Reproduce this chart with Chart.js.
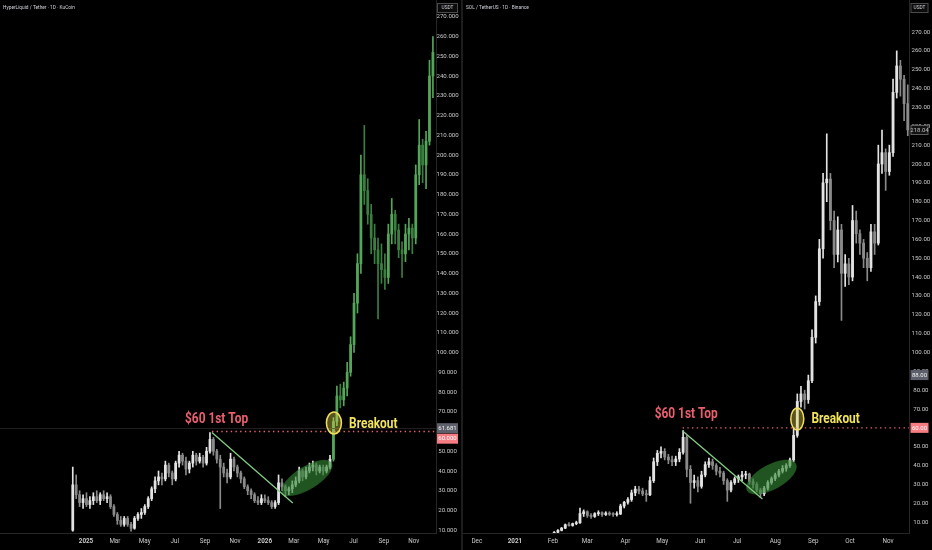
<!DOCTYPE html>
<html>
<head>
<meta charset="utf-8">
<script src="https://cdn.jsdelivr.net/npm/chart.js@4.4.1/dist/chart.umd.min.js"></script>
<style>
  html, body { margin: 0; padding: 0; background: #000; overflow: hidden; }
  #wrap { position: relative; width: 932px; height: 550px; }
  .pane { position: absolute; top: 0; height: 550px; }
  #leftPane { left: 0; width: 461px; }
  #rightPane { left: 463px; width: 469px; }
  #divider { position: absolute; left: 461px; top: 0; width: 2px; height: 550px; background: #1d1d1d; }
</style>
</head>
<body>
<div id="wrap">
  <div class="pane" id="leftPane"><canvas id="hypeChart" width="461" height="550"></canvas></div>
  <div id="divider"></div>
  <div class="pane" id="rightPane"><canvas id="solChart" width="469" height="550"></canvas></div>
</div>
<script>
// ---- Left: HyperLiquid / Tether, weekly candles (x = days since 1 Jan 2025) ----
const hypeStartDay = -27;
const hypeStepDays = 7;
const hypeOpen = [
  10, 33, 28, 24, 26, 23, 25, 27, 25, 28,
  26, 27, 22, 18, 15, 13, 16, 13, 11, 16,
  18, 19, 22, 26, 31, 35, 37, 36, 43, 39,
  36, 44, 48, 45, 41, 44, 48, 45, 47, 44,
  50, 56, 50, 46, 42, 39, 37, 46, 42, 39,
  36, 32, 30, 28, 25, 24, 26, 25, 24, 22,
  24, 34, 32, 30, 31, 33, 35, 40, 37, 40,
  42, 43, 40, 42, 40, 42, 46, 65, 78, 76,
  82, 90, 104, 125, 145, 190, 182, 170, 158, 152,
  145, 142, 138, 160, 170, 162, 152, 150, 160, 163,
  158, 190, 205, 195, 207, 240
];
const hypeHigh = [
  42, 38, 30, 28, 29, 27, 29, 30, 29, 30,
  29, 28, 23, 19, 17, 17, 17, 14, 17, 19,
  21, 23, 27, 32, 37, 40, 39, 45, 44, 40,
  45, 50, 49, 47, 45, 50, 49, 49, 48, 52,
  59.5, 57, 51, 48, 44, 41, 49, 47, 43, 40,
  37, 33, 31, 29, 27, 28, 28, 27, 25, 25,
  38, 36, 33, 32, 35, 37, 42, 41, 42, 44,
  45, 44, 43, 43, 43, 48, 67, 83, 84, 85,
  95, 108, 130, 150, 200, 215, 188, 175, 165, 158,
  155, 150, 165, 178, 172, 165, 156, 165, 168, 165,
  195, 218, 208, 212, 248, 260
];
const hypeLow = [
  9.5, 26, 22, 21, 22, 21, 23, 24, 23, 25,
  24, 21, 17, 13, 12, 12, 12, 9.5, 10.5, 15,
  16, 18, 21, 25, 29, 33, 33, 35, 37, 33,
  35, 42, 43, 38, 39, 42, 43, 44, 42, 43,
  49, 48, 44, 21, 37, 34, 36, 40, 37, 34,
  31, 28, 26, 24, 23, 23, 24, 23, 21, 21,
  23, 30, 27, 28, 29, 32, 34, 35, 36, 39,
  40, 38, 39, 38, 39, 41, 45, 63, 72, 73,
  78, 88, 100, 120, 140, 175, 165, 150, 145, 117,
  135, 132, 135, 155, 155, 148, 138, 146, 152, 150,
  155, 185, 186, 183, 205, 229
];
const hypeClose = [
  33, 28, 24, 26, 23, 25, 27, 25, 28, 26,
  27, 22, 18, 15, 13, 16, 13, 11, 16, 18,
  19, 22, 26, 31, 35, 37, 36, 43, 39, 36,
  44, 48, 45, 41, 44, 48, 45, 47, 44, 50,
  56, 50, 46, 42, 39, 37, 46, 42, 39, 36,
  32, 30, 28, 25, 24, 26, 25, 24, 22, 24,
  34, 32, 30, 31, 33, 35, 40, 37, 40, 42,
  43, 40, 42, 40, 42, 46, 65, 78, 76, 82,
  90, 104, 125, 145, 190, 182, 170, 158, 152, 145,
  142, 138, 160, 170, 162, 152, 150, 160, 163, 158,
  190, 205, 195, 207, 240, 252
];
const hypeMonthDays = [0, 59, 120, 181, 243, 304, 365, 424, 485, 546, 608, 669];
const hypeMonthLabels = ["2025", "Mar", "May", "Jul", "Sep", "Nov", "2026", "Mar", "May", "Jul", "Sep", "Nov"];
const hypePriceTicks = [10, 20, 30, 40, 50, 60, 70, 80, 90, 100, 110, 120, 130, 140, 150, 160, 170, 180, 190, 200, 210, 220, 230, 240, 250, 260, 270];
// candles from this day on are drawn green
const hypeGreenFromDay = 500;
// drawings on the chart, in (day, price)
const hypeNotes = {
  topDay: 257, topPrice: 59.5, levelPrice: 60,
  trendEnd: [422, 23.8],
  ellipse: [451, 36.5],
  breakout: [506, 64.3],
  topLabel: [202, 64.3],
  breakLabel: [537, 61.8],
  lastPrice: 61.681
};
const hypeAxisBoxes = [
  { value: 61.681, text: "61.681", kind: "grey" },
  { value: 60, text: "60.000", kind: "red" }
];

// ---- Right: SOL / TetherUS, 3-day candles (x = days since 1 Jan 2021) ----
const solStartDay = 29;
const solStepDays = 3;
const solOpen = [
  3.0, 3.8, 4.6, 5.6, 6.8, 8.6, 8.2, 9.2, 9.6, 14.5,
  15.5, 13.5, 13, 14.5, 15, 14, 14.8, 14.2, 14, 14.3,
  18.5, 20.5, 22, 25.5, 27.5, 26.5, 25, 24.5, 32, 42,
  46.5, 47.5, 44.5, 43, 42, 43.5, 47, 55, 38, 31,
  32, 29, 35, 40.5, 42, 40, 37, 36, 32, 27,
  31, 33, 34, 35, 35.5, 31.5, 30, 27, 25, 28,
  31, 33, 35, 37, 38.5, 40, 43, 56, 74, 78,
  75, 85, 108, 127, 155, 190, 192, 170, 152, 165,
  142, 147, 140, 170, 163, 158, 150, 145, 164, 158,
  200, 206, 196, 206, 238, 252, 245, 232
];
const solHigh = [
  4.0, 5.0, 6.0, 7.2, 9.0, 9.8, 9.5, 10.5, 17.5, 16.5,
  16, 14.5, 15, 16, 15.5, 15.5, 15.5, 15, 15.5, 19.5,
  21, 23, 27, 29, 29, 28, 27, 34, 44, 48,
  50, 49, 46, 45, 45, 49, 58.5, 56, 40, 35,
  34, 37, 42, 44, 43.5, 41, 39, 37, 33, 32,
  34, 35, 37, 37, 36, 33, 31, 28, 29, 32,
  34, 36, 38, 40, 41, 44, 60, 78, 82, 80,
  88, 112, 130, 160, 195, 216, 195, 175, 172, 168,
  152, 150, 178, 175, 165, 160, 153, 168, 168, 210,
  218, 208, 210, 245, 260, 255, 247, 242
];
const solLow = [
  2.8, 3.5, 4.4, 5.3, 6.5, 7.8, 7.8, 8.6, 9.3, 13,
  12.5, 12, 12.5, 13.5, 13, 13.5, 13.5, 13, 13.2, 14,
  17.5, 19.5, 21, 24, 25, 24, 21, 24, 31, 40,
  44, 43, 41, 40, 40, 42, 46, 34, 20, 28,
  26, 28, 34, 39, 38, 35, 34, 30, 21, 26,
  30, 31, 32, 33, 30, 28, 26, 23, 24, 27,
  30, 32, 34, 36, 37, 39, 42, 55, 71, 70,
  73, 84, 105, 125, 150, 180, 165, 145, 148, 117,
  135, 136, 138, 158, 152, 145, 138, 143, 152, 157,
  195, 186, 194, 204, 235, 236, 223, 215
];
const solClose = [
  3.8, 4.6, 5.6, 6.8, 8.6, 8.2, 9.2, 9.6, 14.5, 15.5,
  13.5, 13, 14.5, 15, 14, 14.8, 14.2, 14, 14.3, 18.5,
  20.5, 22, 25.5, 27.5, 26.5, 25, 24.5, 32, 42, 46.5,
  47.5, 44.5, 43, 42, 43.5, 47, 55, 38, 31, 32,
  29, 35, 40.5, 42, 40, 37, 36, 32, 27, 31,
  33, 34, 35, 35.5, 31.5, 30, 27, 25, 28, 31,
  33, 35, 37, 38.5, 40, 43, 56, 74, 78, 75,
  85, 108, 127, 155, 190, 192, 170, 152, 165, 142,
  147, 140, 170, 163, 158, 150, 145, 164, 158, 200,
  206, 196, 206, 238, 252, 245, 232, 218.04
];
const solMonthDays = [-31, 0, 31, 59, 90, 120, 151, 181, 212, 243, 273, 304];
const solMonthLabels = ["Dec", "2021", "Feb", "Mar", "Apr", "May", "Jun", "Jul", "Aug", "Sep", "Oct", "Nov"];
const solPriceTicks = [10, 20, 30, 40, 50, 60, 70, 80, 90, 100, 110, 120, 130, 140, 150, 160, 170, 180, 190, 200, 210, 220, 230, 240, 250, 260, 270];
const solNotes = {
  topDay: 136.6, topPrice: 58.3, levelPrice: 60,
  trendEnd: [201.6, 22.3],
  ellipse: [209, 33.9],
  breakout: [230, 64.7],
  topLabel: [113.8, 65.2],
  breakLabel: [241.5, 62.6],
  lastPrice: null
};
const solAxisBoxes = [
  { value: 218.04, text: "218.04", kind: "dark" },
  { value: 88, text: "88.00", kind: "grey" },
  { value: 60, text: "60.00", kind: "red" }
];

Chart.defaults.font.family = "Roboto, 'Liberation Sans', sans-serif";

// build wick + body datasets for one panel
function candleSets(days, open, high, low, close, greenFrom, bodyWidth) {
  const colorFor = (i) => {
    const up = close[i] >= open[i];
    if (days[i] >= greenFrom) return up ? "#54a659" : "#3b7f40";
    return up ? "#e3e3e3" : "#8a8a8a";
  };
  return [
    {
      data: days.map((d, i) => ({ x: d, y: [low[i], high[i]] })),
      backgroundColor: (ctx) => colorFor(ctx.dataIndex),
      barThickness: 1,
      grouped: false
    },
    {
      data: days.map((d, i) => ({ x: d, y: [open[i], close[i]] })),
      backgroundColor: (ctx) => colorFor(ctx.dataIndex),
      barThickness: bodyWidth,
      minBarLength: 1,
      grouped: false
    }
  ];
}

function condensedText(c, text, x, y, color) {
  c.save();
  c.font = "bold 14px Roboto";
  c.fillStyle = color;
  c.textBaseline = "alphabetic";
  c.translate(x, y);
  c.scale(0.85, 1);
  c.fillText(text, 0, 0);
  c.restore();
}

// trend line, level, ellipse, breakout circle and labels
function drawNotes(chart, n, st) {
  const c = chart.ctx, sx = chart.scales.x, sy = chart.scales.y, area = chart.chartArea;
  const px = (d) => sx.getPixelForValue(d);
  const py = (p) => sy.getPixelForValue(p);
  c.save();
  c.beginPath();
  c.rect(area.left, area.top, area.width, area.height);
  c.clip();

  if (n.lastPrice) {
    const yl = Math.round(py(n.lastPrice)) + 0.5;
    c.strokeStyle = "#1f1f1f";
    c.lineWidth = 1;
    c.beginPath(); c.moveTo(area.left, yl); c.lineTo(area.right, yl); c.stroke();
  }

  // dotted $60 level
  const yLevel = py(n.levelPrice);
  c.strokeStyle = "#e8636f";
  c.lineWidth = 1.4;
  c.setLineDash([1.4, 3.3]);
  c.beginPath(); c.moveTo(px(n.topDay), yLevel); c.lineTo(area.right, yLevel); c.stroke();
  c.setLineDash([]);

  // accumulation ellipse
  c.fillStyle = "rgba(52,135,52,0.62)";
  c.beginPath();
  c.ellipse(px(n.ellipse[0]), py(n.ellipse[1]), st.ellRx, st.ellRy, st.ellRot, 0, Math.PI * 2);
  c.fill();

  // falling trend line
  c.strokeStyle = "#84cf84";
  c.lineWidth = 1.3;
  c.beginPath();
  c.moveTo(px(n.topDay), py(n.topPrice));
  c.lineTo(px(n.trendEnd[0]), py(n.trendEnd[1]));
  c.stroke();

  // breakout circle
  c.fillStyle = "rgba(235,220,80,0.38)";
  c.strokeStyle = "#f1df5a";
  c.lineWidth = 1.5;
  c.beginPath();
  c.ellipse(px(n.breakout[0]), py(n.breakout[1]), st.circRx, st.circRy, 0, 0, Math.PI * 2);
  c.fill(); c.stroke();
  c.restore();

  condensedText(c, "$60 1st Top", px(n.topLabel[0]), py(n.topLabel[1]), "#ec5f6d");
  condensedText(c, "Breakout", px(n.breakLabel[0]), py(n.breakLabel[1]), "#f2e35c");
}

// price boxes on the axis, header text, USDT box
function drawAxisExtras(chart, boxes, title, st) {
  const c = chart.ctx, sy = chart.scales.y, area = chart.chartArea;
  const bx = area.right + st.boxInset;
  const colors = {
    grey: { bg: "#5d606b", fg: "#f0f0f0", line: null },
    red: { bg: "#f47c82", fg: "#ffffff", line: null },
    dark: { bg: "#121212", fg: "#bdbdbd", line: "#5e5e5e" }
  };
  c.save();
  c.font = st.boxFont;
  c.textAlign = "center";
  c.textBaseline = "middle";
  let prevBottom = -Infinity;
  boxes.map((b) => ({ ...b, yc: sy.getPixelForValue(b.value) }))
    .sort((p, q) => p.yc - q.yc)
    .forEach((b) => {
      let top = b.yc - st.boxH / 2;
      if (top < prevBottom + 0.5) top = prevBottom + 0.5;
      const col = colors[b.kind];
      c.fillStyle = col.bg;
      c.fillRect(bx, top, st.boxW, st.boxH);
      if (col.line) {
        c.strokeStyle = col.line;
        c.lineWidth = 1;
        c.strokeRect(bx + 0.5, top + 0.5, st.boxW - 1, st.boxH - 1);
      }
      c.fillStyle = col.fg;
      c.fillText(b.text, bx + st.boxW / 2, top + st.boxH / 2 + 0.3);
      prevBottom = top + st.boxH;
    });

  // USDT box at the top of the price axis
  c.fillStyle = "#0b0b0b";
  c.fillRect(bx, 3, st.boxW, 10);
  c.strokeStyle = "#4a4a4a";
  c.lineWidth = 1;
  c.strokeRect(bx + 0.5, 3.5, st.boxW - 1, 9);
  c.fillStyle = "#d1d4dc";
  c.font = "4.8px Roboto";
  c.fillText("USDT", bx + st.boxW / 2, 8.3);

  // symbol header
  c.textAlign = "left";
  c.font = "4.8px Roboto";
  c.fillStyle = "#d1d4dc";
  c.fillText(title, 3, 7.5);
  c.restore();
}

function makePanel(canvasId, p) {
  const days = p.open.map((_, i) => p.startDay + i * p.stepDays);
  return new Chart(document.getElementById(canvasId), {
    type: "bar",
    data: { datasets: candleSets(days, p.open, p.high, p.low, p.close, p.greenFrom, p.bodyWidth) },
    options: {
      responsive: false,
      animation: false,
      layout: { padding: 0 },
      plugins: { legend: { display: false }, tooltip: { enabled: false } },
      scales: {
        x: {
          type: "linear",
          min: p.xMin,
          max: p.xMax,
          offset: false,
          grid: { display: false, drawTicks: false },
          border: { display: true, color: "#262626" },
          afterBuildTicks: (s) => { s.ticks = p.monthDays.map((v) => ({ value: v })); },
          afterFit: (s) => { s.height = 17; s.paddingLeft = 0; s.paddingRight = 0; },
          ticks: {
            autoSkip: false,
            maxRotation: 0,
            padding: 4.5,
            color: "#c9c9c9",
            font: (ctx) => ({
              size: 6.3,
              weight: /^\d{4}$/.test(p.monthLabels[ctx.index]) ? "bold" : "normal"
            }),
            callback: (v, i) => p.monthLabels[i]
          }
        },
        y: {
          position: "right",
          min: p.yMin,
          max: p.yMax,
          grid: { display: false, drawTicks: false },
          border: { display: true, color: "#262626" },
          afterBuildTicks: (s) => { s.ticks = p.priceTicks.map((v) => ({ value: v })); },
          afterFit: (s) => { s.width = p.axisWidth; s.paddingTop = 0; s.paddingBottom = 0; },
          ticks: {
            autoSkip: false,
            crossAlign: "center",
            padding: p.tickPad,
            color: "#c9c9c9",
            font: { size: 6.1 },
            callback: (v) => v.toFixed(p.decimals)
          }
        }
      }
    },
    plugins: [{
      id: "notes_" + canvasId,
      afterDatasetsDraw: (chart) => drawNotes(chart, p.notes, p.noteStyle),
      afterDraw: (chart) => drawAxisExtras(chart, p.boxes, p.title, p.boxStyle)
    }]
  });
}

makePanel("hypeChart", {
  title: "HyperLiquid / Tether \u00b7 1D \u00b7 KuCoin",
  startDay: hypeStartDay, stepDays: hypeStepDays,
  open: hypeOpen, high: hypeHigh, low: hypeLow, close: hypeClose,
  greenFrom: hypeGreenFromDay, bodyWidth: 2.1,
  xMin: -175.5, xMax: 714.3, yMin: 8.61, yMax: 278.5,
  monthDays: hypeMonthDays, monthLabels: hypeMonthLabels,
  priceTicks: hypePriceTicks, decimals: 3, axisWidth: 25, tickPad: 0.5,
  notes: hypeNotes, boxes: hypeAxisBoxes,
  noteStyle: { ellRx: 29, ellRy: 11.5, ellRot: -0.55, circRx: 7.5, circRy: 11 },
  boxStyle: { boxInset: 1, boxW: 21, boxH: 10, boxFont: "6px Roboto" }
});

makePanel("solChart", {
  title: "SOL / TetherUS \u00b7 1D \u00b7 Binance",
  startDay: solStartDay, stepDays: solStepDays,
  open: solOpen, high: solHigh, low: solLow, close: solClose,
  greenFrom: Infinity, bodyWidth: 2.2,
  xMin: -42.3, xMax: 321, yMin: 4.22, yMax: 287,
  monthDays: solMonthDays, monthLabels: solMonthLabels,
  priceTicks: solPriceTicks, decimals: 2, axisWidth: 23, tickPad: 2.5,
  notes: solNotes, boxes: solAxisBoxes,
  noteStyle: { ellRx: 28, ellRy: 12.5, ellRot: -0.5, circRx: 6.5, circRy: 11 },
  boxStyle: { boxInset: 1.5, boxW: 18, boxH: 10, boxFont: "6px Roboto" }
});
</script>
</body>
</html>
